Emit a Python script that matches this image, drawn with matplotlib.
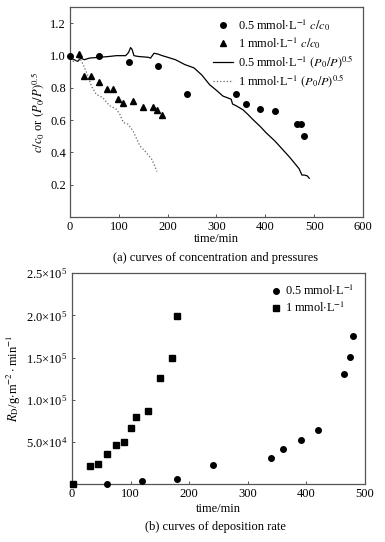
import matplotlib
matplotlib.use('Agg')
import matplotlib.pyplot as plt
from matplotlib.ticker import FuncFormatter

plt.rcParams['font.family'] = ['Liberation Serif', 'DejaVu Serif']
plt.rcParams['mathtext.fontset'] = 'stix'

# (a) concentration ratio, 0.5 mmol/L
t_c05 = [1, 60, 120, 180, 240, 340, 360, 390, 420, 464, 474, 479]
c_c05 = [1.0, 1.0, 0.96, 0.935, 0.76, 0.76, 0.70, 0.67, 0.66, 0.575, 0.575, 0.50]
# (a) concentration ratio, 1 mmol/L
t_c1 = [18, 29, 44, 59, 75, 89, 99, 109, 129, 150, 170, 179, 188]
c_c1 = [1.01, 0.873, 0.877, 0.836, 0.795, 0.795, 0.729, 0.709, 0.719, 0.684, 0.684, 0.662, 0.631]
# (a) pressure ratio, 0.5 mmol/L
t_p05 = [0, 5, 12, 16, 22, 29, 40, 60, 80, 95, 114, 120, 124, 127, 131, 140, 160, 165,
         172, 180, 189, 200, 216, 235, 245, 254, 270, 286, 300, 313, 330, 333, 340, 354,
         364, 374, 390, 401, 420, 435, 450, 469, 475, 480, 486, 490]
p_p05 = [1.0, 0.98, 0.97, 0.965, 0.985, 0.975, 0.985, 0.99, 0.995, 1.0, 1.0, 1.02, 1.05,
         1.04, 1.0, 0.995, 0.99, 0.985, 1.015, 1.01, 1.0, 0.99, 0.975, 0.945, 0.934, 0.924,
         0.88, 0.82, 0.785, 0.75, 0.73, 0.70, 0.69, 0.665, 0.637, 0.606, 0.56, 0.524, 0.47,
         0.42, 0.37, 0.30, 0.26, 0.26, 0.255, 0.24]
# (a) pressure ratio, 1 mmol/L
t_p1 = [0, 4, 12, 20, 27, 37, 44, 54, 67, 81, 95, 102, 109, 119, 129, 143, 156, 167, 173, 178]
p_p1 = [1.0, 0.965, 0.965, 0.985, 0.945, 0.873, 0.81, 0.76, 0.74, 0.69, 0.668, 0.637,
        0.586, 0.575, 0.534, 0.442, 0.40, 0.36, 0.32, 0.282]

# (b) deposition rate
t_r05 = [1, 59, 119, 179, 240, 340, 360, 390, 420, 465, 475, 479]
r_r05 = [500, 400, 3600, 5500, 22500, 30400, 41000, 52100, 64400, 131000, 151000, 176000]
t_r1 = [1, 30, 44, 60, 75, 89, 100, 110, 130, 150, 170, 180]
r_r1 = [500, 21300, 24100, 35500, 46600, 49400, 66700, 80000, 86900, 125600, 149700, 199000]

fig = plt.figure(figsize=(3.85, 5.42), dpi=100)
fs = 9
spine_c = '#555555'


def style(ax):
    for s in ax.spines.values():
        s.set_color(spine_c)
        s.set_linewidth(0.9)
    ax.tick_params(direction='in', length=2.5, width=0.7, color=spine_c,
                   labelsize=fs, pad=3)


# ---- (a) ----
ax1 = fig.add_axes([0.1818, 0.5996, 0.761, 0.387])
ax1.plot(t_p05, p_p05, '-', color='black', lw=0.9,
         label=r'0.5 mmol$\cdot$L$^{-1}$ $(P_0/P)^{0.5}$')
ax1.plot(t_p1, p_p1, ':', color='#666666', lw=0.9,
         label=r'1 mmol$\cdot$L$^{-1}$ $(P_0/P)^{0.5}$')
ax1.plot(t_c05, c_c05, 'o', color='black', ms=4, clip_on=False, zorder=4,
         label=r'0.5 mmol$\cdot$L$^{-1}$ $c/c_0$')
ax1.plot(t_c1, c_c1, '^', color='black', ms=4.3, clip_on=False, zorder=3,
         label=r'1 mmol$\cdot$L$^{-1}$ $c/c_0$')
ax1.set_xlim(0, 600)
ax1.set_ylim(0, 1.3)
ax1.set_xticks(range(0, 601, 100))
ax1.set_yticks([0.2, 0.4, 0.6, 0.8, 1.0, 1.2])
ax1.set_xlabel('time/min', fontsize=fs, labelpad=0)
ax1.set_ylabel(r'$c/c_0$ or $(P_0/P)^{0.5}$', fontsize=fs, labelpad=2)
style(ax1)
h, l = ax1.get_legend_handles_labels()
order = [2, 3, 0, 1]
ax1.legend([h[i] for i in order], [l[i] for i in order], loc='upper right',
           frameon=False, fontsize=8.8, handlelength=1.6, handletextpad=0.4,
           labelspacing=0.2, borderaxespad=0.4)
fig.text(0.56, 0.524, '(a) curves of concentration and pressures',
         ha='center', va='center', fontsize=fs)

# ---- (b) ----
ax2 = fig.add_axes([0.187, 0.107, 0.761, 0.389])
ax2.plot(t_r05, r_r05, 'o', color='black', ms=4, clip_on=False, zorder=4,
         label=r'0.5 mmol$\cdot$L$^{-1}$')
ax2.plot(t_r1, r_r1, 's', color='black', ms=3.8, clip_on=False, zorder=3,
         label=r'1 mmol$\cdot$L$^{-1}$')
ax2.set_xlim(0, 500)
ax2.set_ylim(0, 250000)
ax2.set_xticks(range(0, 501, 100))
ax2.set_yticks([50000, 100000, 150000, 200000, 250000])


def sci(v, pos):
    e = len(str(int(v))) - 1
    m = v / 10 ** e
    return r'$\mathregular{%.1f{\times}10^{%d}}$' % (m, e)


ax2.yaxis.set_major_formatter(FuncFormatter(sci))
ax2.set_xlabel('time/min', fontsize=fs, labelpad=2)
ax2.set_ylabel(r'$R_{\mathrm{D}}$/g$\cdot$m$^{-2}\cdot$min$^{-1}$', fontsize=fs, labelpad=2)
style(ax2)
ax2.legend(loc='upper right', frameon=False, fontsize=8.8, handlelength=0.8,
           handletextpad=0.3, labelspacing=0.2, borderaxespad=0.5)
fig.text(0.56, 0.027, '(b) curves of deposition rate',
         ha='center', va='center', fontsize=fs)

fig.savefig('out.png', dpi=100, facecolor='white')
